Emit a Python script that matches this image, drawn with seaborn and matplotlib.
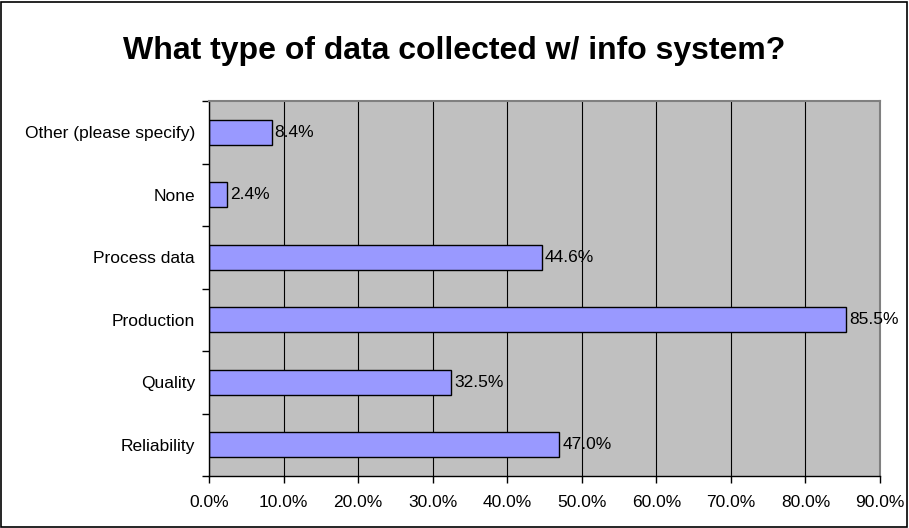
import matplotlib
matplotlib.use('Agg')
import matplotlib.pyplot as plt
import seaborn as sns
import numpy as np
import pandas as pd
from matplotlib.ticker import FuncFormatter, FixedLocator
from matplotlib.patches import Rectangle

# data (top to bottom)
categories = ['Other (please specify)', 'None', 'Process data', 'Production', 'Quality', 'Reliability']
percents = [8.4, 2.4, 44.6, 85.5, 32.5, 47.0]
x_ticks = [0, 10, 20, 30, 40, 50, 60, 70, 80, 90]

df = pd.DataFrame({'Category': categories, 'Percent': percents})

sns.set_style('white')
plt.rcParams['font.family'] = ['Liberation Sans', 'DejaVu Sans']
plt.rcParams['text.color'] = 'black'
plt.rcParams['xtick.color'] = 'black'
plt.rcParams['ytick.color'] = 'black'

fig = plt.figure(figsize=(9.09, 5.28), dpi=100)
ax = fig.add_axes([209 / 909, 1 - 476 / 528, (880 - 209) / 909, (476 - 101) / 528])

ax.set_facecolor('#C0C0C0')
ax.set_axisbelow(True)
ax.grid(axis='x', color='black', linewidth=0.8)
ax.grid(axis='y', visible=False)

sns.barplot(data=df, x='Percent', y='Category', orient='h', color='#9999FF',
            edgecolor='black', linewidth=1.0, width=0.4, saturation=1, ax=ax)

for i, v in enumerate(percents):
    ax.annotate(f'{v:.1f}%', xy=(v, i), xytext=(2, 0), textcoords='offset points',
                va='center', ha='left', fontsize=12.5, color='black')

ax.set_xlim(0, 90)
ax.set_ylim(len(categories) - 0.5, -0.5)
ax.xaxis.set_major_locator(FixedLocator(x_ticks))
ax.xaxis.set_major_formatter(FuncFormatter(lambda x, pos: '{:.1f}%'.format(x)))

# labels at bar centres, tick marks between categories (Excel style)
ax.set_yticks(range(len(categories)))
ax.set_yticklabels(categories)
ax.set_yticks(np.arange(-0.5, len(categories), 1.0), minor=True)
ax.tick_params(axis='y', which='major', length=0, pad=10, labelsize=12.5)
ax.tick_params(axis='y', which='minor', left=True, length=5, width=1, color='black', direction='out')
ax.tick_params(axis='x', which='major', bottom=True, length=5, width=1, color='black',
               direction='out', pad=9, labelsize=12.5)

ax.set_xlabel('')
ax.set_ylabel('')

for side in ['left', 'bottom']:
    ax.spines[side].set_color('black')
    ax.spines[side].set_linewidth(1.0)
for side in ['top', 'right']:
    ax.spines[side].set_color('#808080')
    ax.spines[side].set_linewidth(1.5)

fig.text(0.5, 1 - 59 / 528, 'What type of data collected w/ info system?',
         ha='center', va='baseline', fontsize=23, fontweight='bold', color='black')

# outer chart border
fig.add_artist(Rectangle((1 / 909, 1 / 528), 906 / 909, 525 / 528, transform=fig.transFigure,
                         fill=False, edgecolor='black', linewidth=1.2))

plt.savefig('out.png', dpi=100)
plt.close()
